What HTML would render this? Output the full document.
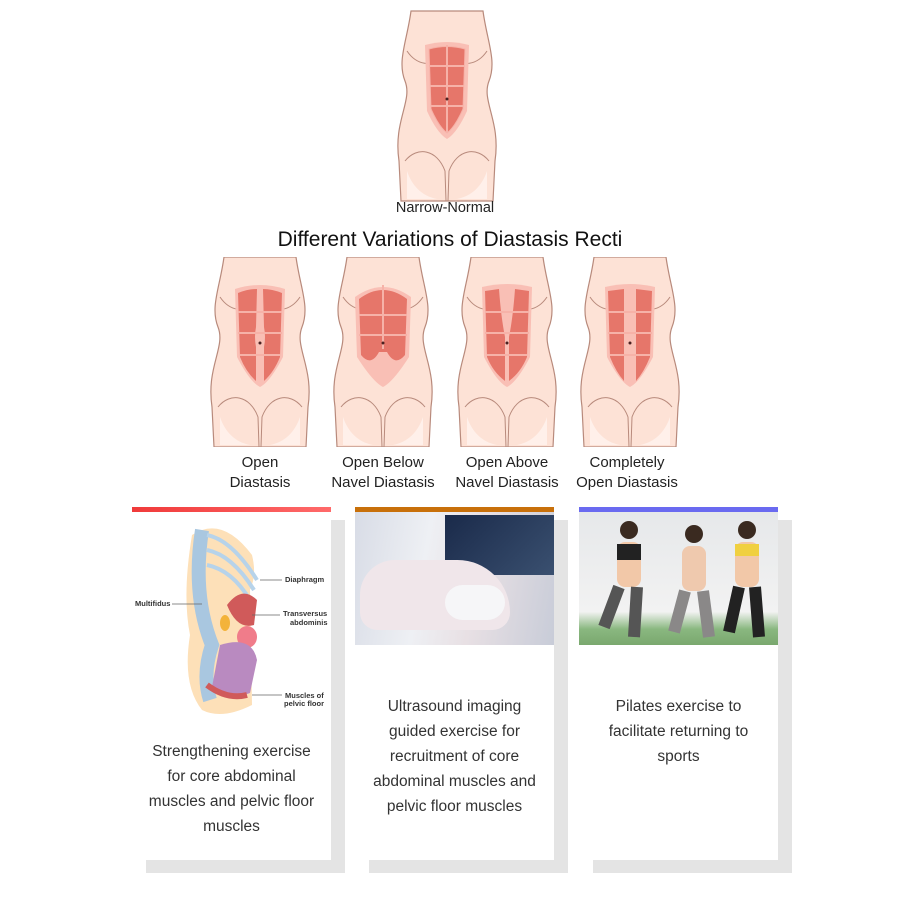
<!DOCTYPE html>
<html><head><meta charset="utf-8"><style>
body{margin:0;width:900px;height:900px;background:#fff;font-family:"Liberation Sans",sans-serif;position:relative;overflow:hidden}
.t{position:absolute;text-align:center;color:#222}
.sh{position:absolute;background:#e4e4e4}
.card{position:absolute;background:#fff}
.bar{position:absolute;height:5px}
.ct{position:absolute;text-align:center;font-size:15.5px;line-height:25px;color:#333}
</style></head><body>
<svg width="0" height="0" style="position:absolute">
<defs>
<g id="torso">
<path d="M14 0 C10 30 0 50 8 70 C16 90 -4 110 2 150 L4 190 L96 190 L98 150 C104 110 84 90 92 70 C100 50 90 30 86 0 Z" fill="#fde2d6" stroke="#b88a7c" stroke-width="1.2"/>
<path d="M8 150 C20 135 40 138 48 160 L49 190 M92 150 C80 135 60 138 52 160 L51 190" fill="none" stroke="#b88a7c" stroke-width="1"/>
<path d="M10 40 C20 55 35 55 45 48 M90 40 C80 55 65 55 55 48" fill="none" stroke="#b88a7c" stroke-width="1"/>
<path d="M10 160 C15 175 25 185 40 188 L10 188 Z M90 160 C85 175 75 185 60 188 L90 188Z" fill="#fff0ea"/>
</g>
</defs>
</svg>

<svg style="position:absolute;left:397px;top:10px" width="100" height="192" viewBox="0 0 100 190">
<use href="#torso"/>
<path d="M28 34 Q50 28 72 34 L70 100 Q60 122 50 128 Q40 122 30 100 Z" fill="#f9bfb5"/>
<path d="M32 38 Q50 33 68 38 L66 98 Q58 116 50 122 Q42 116 34 98 Z" fill="#e6766a" stroke="#f6b2a8" stroke-width="1"/>
<path d="M50 34 V122 M33 55 H67 M33 75 H67 M34 95 H66" stroke="#f6b2a8" stroke-width="2"/>
<circle cx="50" cy="88" r="1.5" fill="#4a2020"/>
</svg>
<div class="t" style="left:370px;top:200px;width:150px;font-size:14.5px">Narrow-Normal</div>
<div class="t" style="left:180px;top:228px;width:540px;font-size:21px;color:#111">Different Variations of Diastasis Recti</div>

<svg style="position:absolute;left:210px;top:257px" width="100" height="190" viewBox="0 0 100 190"><use href="#torso"/>
<path d="M25 32 Q50 24 75 32 L73 100 Q60 125 50 130 Q40 125 27 100 Z" fill="#f9bfb5"/>
<path d="M28 36 Q38 32 47 32 L46 70 Q44 80 46 90 L46 124 Q36 115 30 100Z M72 36 Q62 32 53 32 L54 70 Q56 80 54 90 L54 124 Q64 115 70 100Z" fill="#e6766a"/>
<path d="M28 55 H72 M28 76 H72 M30 98 H70" stroke="#f6b2a8" stroke-width="2"/><circle cx="50" cy="86" r="1.5" fill="#4a2020"/></svg>
<svg style="position:absolute;left:333px;top:257px" width="100" height="190" viewBox="0 0 100 190"><use href="#torso"/>
<path d="M22 40 Q50 20 78 40 L76 100 Q60 125 50 130 Q40 125 24 100 Z" fill="#f9bfb5"/>
<path d="M26 42 Q50 24 74 42 L72 98 Q62 110 54 95 L46 95 Q38 110 28 98Z" fill="#e6766a"/>
<path d="M50 28 V92 M26 58 H74 M26 78 H74" stroke="#f6b2a8" stroke-width="2"/><circle cx="50" cy="86" r="1.5" fill="#4a2020"/></svg>
<svg style="position:absolute;left:457px;top:257px" width="100" height="190" viewBox="0 0 100 190"><use href="#torso"/>
<path d="M25 30 Q50 24 75 30 L73 100 Q60 125 50 130 Q40 125 27 100 Z" fill="#f9bfb5"/>
<path d="M28 34 L42 32 Q44 60 48 80 L48 124 Q36 115 30 100Z M72 34 L58 32 Q56 60 52 80 L52 124 Q64 115 70 100Z" fill="#e6766a"/>
<path d="M28 55 H72 M28 76 H72 M30 98 H70" stroke="#f6b2a8" stroke-width="2"/><circle cx="50" cy="86" r="1.5" fill="#4a2020"/></svg>
<svg style="position:absolute;left:580px;top:257px" width="100" height="190" viewBox="0 0 100 190"><use href="#torso"/>
<path d="M25 30 Q50 24 75 30 L73 100 Q60 125 50 130 Q40 125 27 100 Z" fill="#f9bfb5"/>
<path d="M28 34 L44 32 L44 124 Q36 115 30 100Z M72 34 L56 32 L56 124 Q64 115 70 100Z" fill="#e6766a"/>
<path d="M28 55 H72 M28 76 H72 M30 98 H70" stroke="#f6b2a8" stroke-width="2"/><circle cx="50" cy="86" r="1.5" fill="#4a2020"/></svg>

<div class="t" style="left:195px;top:453px;width:130px;font-size:15px;line-height:20px">Open<br>Diastasis</div>
<div class="t" style="left:318px;top:453px;width:130px;font-size:15px;line-height:20px">Open Below<br>Navel Diastasis</div>
<div class="t" style="left:442px;top:453px;width:130px;font-size:15px;line-height:20px">Open Above<br>Navel Diastasis</div>
<div class="t" style="left:562px;top:453px;width:130px;font-size:15px;line-height:20px">Completely<br>Open Diastasis</div>

<div class="sh" style="left:146px;top:520px;width:199px;height:353px"></div>
<div class="card" style="left:132px;top:507px;width:199px;height:353px"></div>
<div class="bar" style="left:132px;top:507px;width:199px;background:linear-gradient(90deg,#f03a3a,#ff6a6a)"></div>
<svg style="position:absolute;left:132px;top:515px" width="199" height="205" viewBox="0 0 199 205">
<path d="M60 20 Q90 0 120 40 Q125 60 118 75 L120 190 Q90 205 70 195 Q50 170 58 120 Q50 80 60 20Z" fill="#fde0b8"/>
<path d="M70 15 Q60 80 80 130 Q70 160 78 185" stroke="#a9c7e0" stroke-width="14" fill="none"/>
<path d="M75 20 Q100 25 125 65 M75 35 Q100 40 122 75 M75 50 Q100 55 118 85" stroke="#b7d3ea" stroke-width="4" fill="none"/>
<path d="M95 90 Q110 70 125 85 L122 110 Q105 115 95 90Z" fill="#d05a5a"/>
<ellipse cx="115" cy="122" rx="10" ry="11" fill="#f07c8a"/>
<path d="M88 130 Q120 120 125 145 L118 178 Q100 185 80 172Z" fill="#b98ac0"/>
<path d="M75 170 Q95 185 115 180" stroke="#d05a5a" stroke-width="6" fill="none"/>
<ellipse cx="93" cy="108" rx="5" ry="8" fill="#f3b33a"/>
<g font-family="Liberation Sans" font-size="7.5" font-weight="bold" fill="#333">
<text x="153" y="67">Diaphragm</text><text x="151" y="101">Transversus</text><text x="158" y="110">abdominis</text>
<text x="3" y="91">Multifidus</text><text x="153" y="183">Muscles of</text><text x="152" y="191">pelvic floor</text></g>
<path d="M128 65 H150 M40 89 H70 M120 100 H148 M120 180 H150" stroke="#666" stroke-width="0.7"/>
</svg>
<div class="ct" style="left:144px;top:739px;width:175px">Strengthening exercise for core abdominal muscles and pelvic floor muscles</div>

<div class="sh" style="left:369px;top:520px;width:199px;height:353px"></div>
<div class="card" style="left:355px;top:507px;width:199px;height:353px"></div>
<div class="bar" style="left:355px;top:507px;width:199px;background:#c8700a"></div>
<div style="position:absolute;left:355px;top:512px;width:199px;height:133px;background:linear-gradient(100deg,#d8dce6 0%,#eef0f4 35%,#e8e0e4 60%,#c8ccd8 100%)"></div>
<div style="position:absolute;left:445px;top:515px;width:109px;height:60px;background:linear-gradient(135deg,#1a2a4a,#3a5070)"></div>
<div style="position:absolute;left:360px;top:560px;width:150px;height:70px;border-radius:40px 60px 20px 20px;background:#f0e6ea"></div>
<div style="position:absolute;left:445px;top:585px;width:60px;height:35px;border-radius:20px;background:#f6f6f8"></div>
<div class="ct" style="left:367px;top:694px;width:175px">Ultrasound imaging guided exercise for recruitment of core abdominal muscles and pelvic floor muscles</div>

<div class="sh" style="left:593px;top:520px;width:199px;height:353px"></div>
<div class="card" style="left:579px;top:507px;width:199px;height:353px"></div>
<div class="bar" style="left:579px;top:507px;width:199px;background:#6a6af0"></div>
<div style="position:absolute;left:579px;top:512px;width:199px;height:133px;background:linear-gradient(180deg,#e6e8ea 0%,#f2f2f2 75%,#8ab880 88%,#7aa86e 100%)"></div>
<svg style="position:absolute;left:579px;top:512px" width="199" height="133">
<circle cx="50" cy="18" r="9" fill="#3a2a20"/><rect x="38" y="30" width="24" height="45" rx="8" fill="#f2c8a8"/><rect x="38" y="32" width="24" height="16" fill="#222"/>
<path d="M40 75 L25 115 M58 75 L55 125" stroke="#555" stroke-width="12"/>
<circle cx="115" cy="22" r="9" fill="#3a2a20"/><rect x="103" y="34" width="24" height="45" rx="8" fill="#efc9ae"/>
<path d="M106 79 L95 120 M124 79 L130 125" stroke="#8a8888" stroke-width="12"/>
<circle cx="168" cy="18" r="9" fill="#3a2a20"/><rect x="156" y="30" width="24" height="45" rx="8" fill="#f2c8a8"/><rect x="156" y="32" width="24" height="12" fill="#f0d040"/>
<path d="M160 75 L150 120 M176 75 L180 125" stroke="#222" stroke-width="12"/>
</svg>
<div class="ct" style="left:596px;top:694px;width:165px">Pilates exercise to facilitate returning to sports</div>
</body></html>
